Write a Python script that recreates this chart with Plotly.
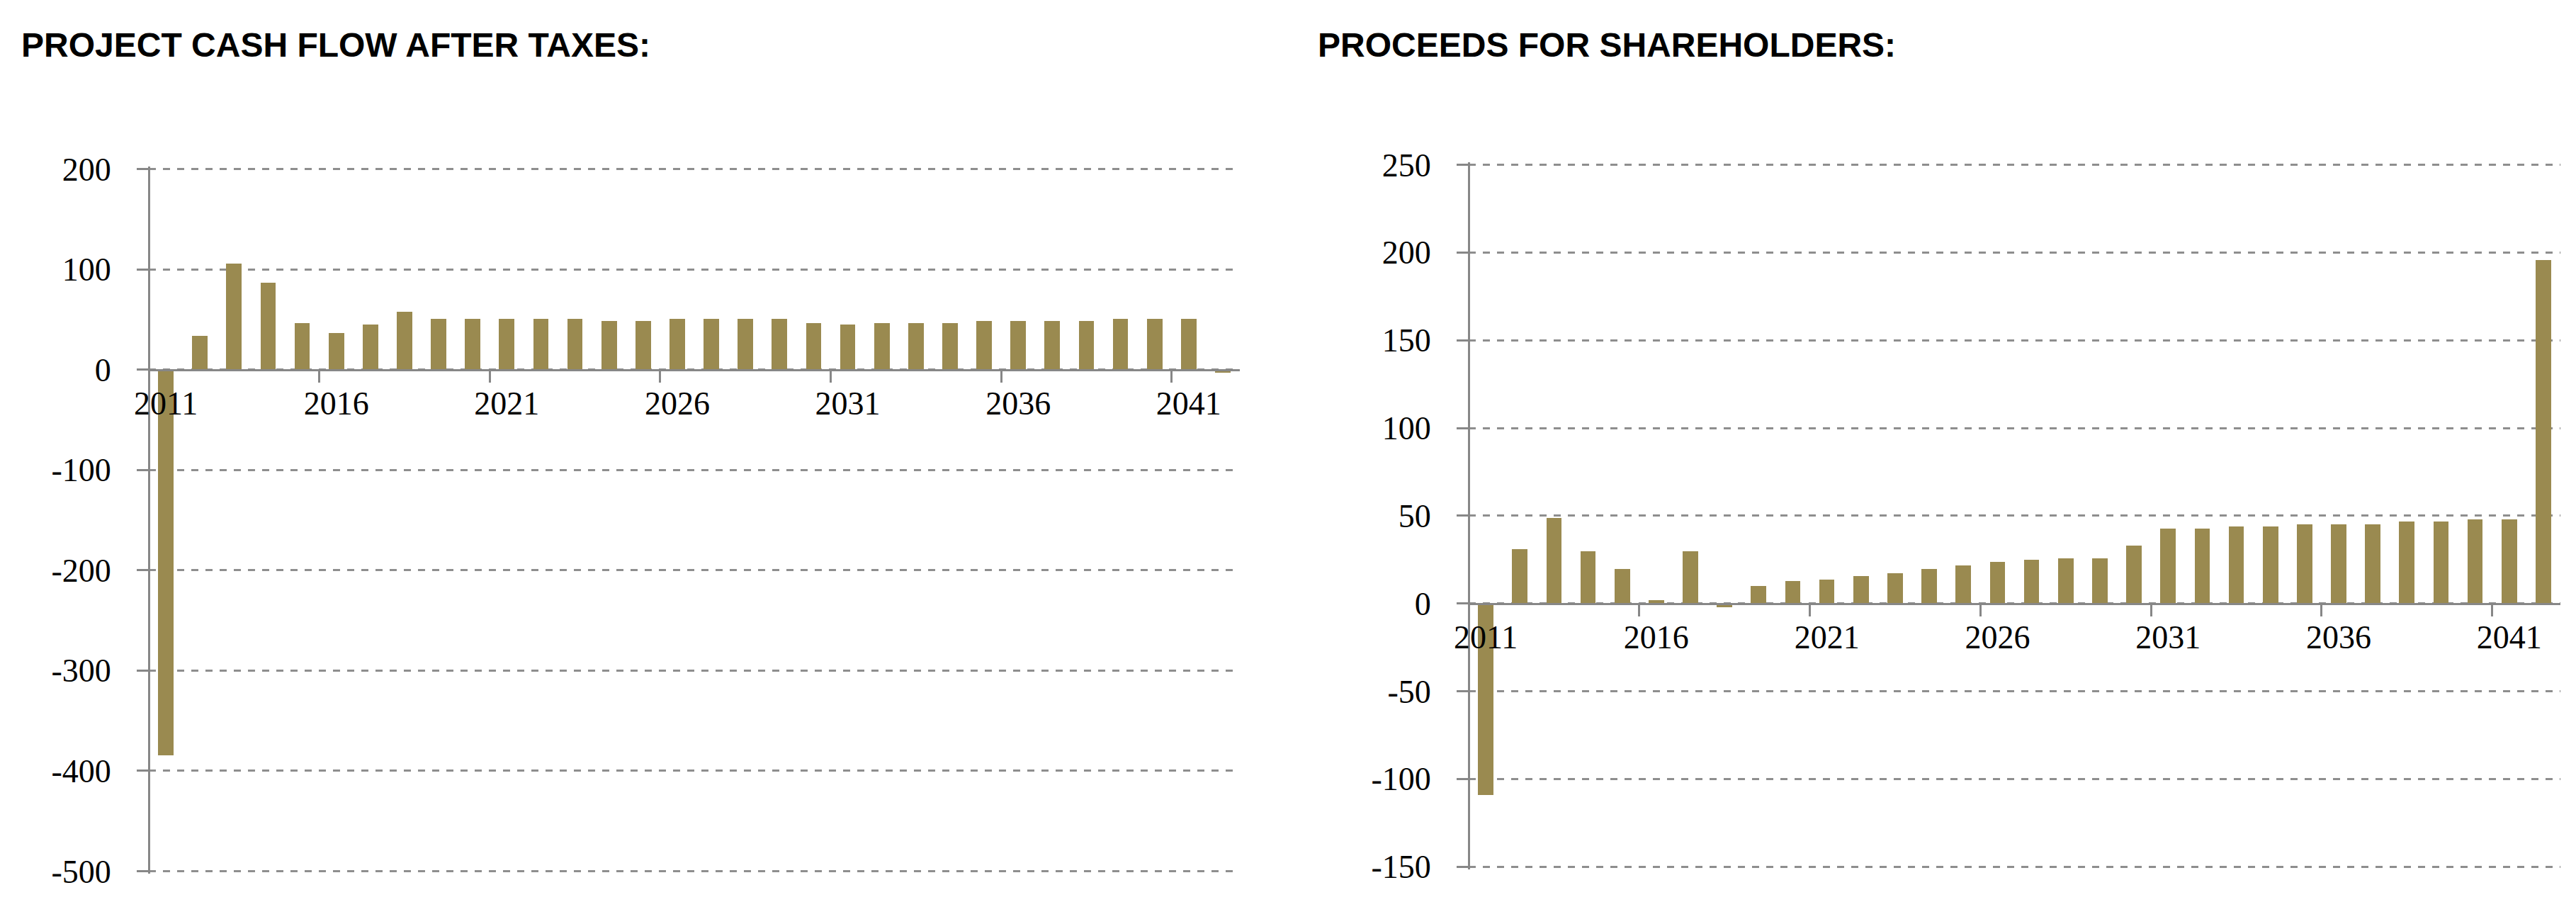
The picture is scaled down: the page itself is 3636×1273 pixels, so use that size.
import plotly.graph_objects as go

years = [2011, 2012, 2013, 2014, 2015, 2016, 2017, 2018, 2019, 2020,
         2021, 2022, 2023, 2024, 2025, 2026, 2027, 2028, 2029, 2030,
         2031, 2032, 2033, 2034, 2035, 2036, 2037, 2038, 2039, 2040,
         2041, 2042]

cash_flow = [-384, 34, 106, 87, 47, 37, 45, 58, 51, 51,
             51, 51, 51, 49, 49, 51, 51, 51, 51, 47,
             45, 47, 47, 47, 49, 49, 49, 49, 51, 51,
             51, -3]

proceeds = [-109, 31, 49, 30, 20, 2, 30, -2, 10, 13,
            14, 16, 17.5, 20, 22, 24, 25, 26, 26, 33,
            43, 43, 44, 44, 45.5, 45.5, 45.5, 47, 47, 48,
            48, 196]

titles = ["PROJECT CASH FLOW AFTER TAXES:", "PROCEEDS FOR SHAREHOLDERS:"]
left_yticks = [-500, -400, -300, -200, -100, 0, 100, 200]
right_yticks = [-150, -100, -50, 0, 50, 100, 150, 200, 250]
xtick_years = [2011, 2016, 2021, 2026, 2031, 2036, 2041]

W, H = 3636, 1273
BAR = "#9A8A50"
GRAY = "#878787"
GRID = "#8E8E8E"
TICKFONT = dict(family="Liberation Serif, Times New Roman, serif", size=46, color="black")
TITLEFONT = dict(family="Liberation Sans, Arial, sans-serif", size=48, color="black")

# pixel boxes of the plot areas (x0, x1, y_top_of_range, y_bottom_of_range)
L_box = (202, 1742, 230.6, 1221.4)
R_box = (2065, 3606, 224.5, 1215.2)
PAD_PX = 4  # extend the range a little so edge gridlines are drawn


def geometry(box, ticks):
    x0, x1, ytop, ybot = box
    lo, hi = ticks[0], ticks[-1]
    ppu = (ybot - ytop) / (hi - lo)
    pad = PAD_PX / ppu
    rng = [lo - pad, hi + pad]
    dom_y = [1 - (ybot + PAD_PX) / H, 1 - (ytop - PAD_PX) / H]
    dom_x = [x0 / W, x1 / W]
    zero = dom_y[0] + (0 - rng[0]) / (rng[1] - rng[0]) * (dom_y[1] - dom_y[0])
    return dom_x, dom_y, rng, zero


L_dx, L_dy, L_rng, L_zero = geometry(L_box, left_yticks)
R_dx, R_dy, R_rng, R_zero = geometry(R_box, right_yticks)

fig = go.Figure()
fig.add_trace(go.Bar(x=years, y=cash_flow, width=0.45, marker=dict(color=BAR, line=dict(width=0)),
                     xaxis="x", yaxis="y", showlegend=False))
fig.add_trace(go.Bar(x=years, y=proceeds, width=0.45, marker=dict(color=BAR, line=dict(width=0)),
                     xaxis="x2", yaxis="y2", showlegend=False))


def xaxis_cfg(dom, pos):
    return dict(
        domain=dom, anchor="free", position=pos,
        type="linear", range=[years[0] - 0.5, years[-1] + 0.5],
        tickmode="array", tickvals=xtick_years, ticktext=[str(v) for v in xtick_years],
        ticks="", showgrid=False, zeroline=False,
        showline=True, linecolor=GRAY, linewidth=3,
        tickfont=TICKFONT, ticklabelstandoff=6,
        minor=dict(tickmode="array", tickvals=[v - 0.5 for v in xtick_years],
                   ticks="outside", ticklen=16, tickwidth=3, tickcolor=GRAY, showgrid=False),
        fixedrange=True,
    )


def yaxis_cfg(dom, rng, ticks, xpos):
    return dict(
        domain=dom, anchor="free", position=xpos, range=rng,
        tickmode="array", tickvals=ticks, ticktext=[str(v) for v in ticks],
        showgrid=True, gridcolor=GRID, gridwidth=3, griddash="10px,10px",
        zeroline=False, showline=True, linecolor=GRAY, linewidth=3,
        ticks="outside", ticklen=16, tickwidth=3, tickcolor=GRAY,
        tickfont=TICKFONT, ticklabelstandoff=27, fixedrange=True,
    )


fig.update_layout(
    width=W, height=H,
    margin=dict(l=0, r=0, t=0, b=0, autoexpand=False),
    paper_bgcolor="white", plot_bgcolor="white",
    bargap=0,
    xaxis=xaxis_cfg(L_dx, L_zero),
    yaxis=yaxis_cfg(L_dy, L_rng, left_yticks, L_dx[0]),
    xaxis2=xaxis_cfg(R_dx, R_zero),
    yaxis2=yaxis_cfg(R_dy, R_rng, right_yticks, R_dx[0]),
    annotations=[
        dict(text="<b>" + titles[0] + "</b>", xref="paper", yref="paper", x=20 / W, y=1 - 56 / H,
             xanchor="left", yanchor="middle", showarrow=False, font=TITLEFONT),
        dict(text="<b>" + titles[1] + "</b>", xref="paper", yref="paper", x=1850 / W, y=1 - 56 / H,
             xanchor="left", yanchor="middle", showarrow=False, font=TITLEFONT),
    ],
)

fig.write_html("out.html")
